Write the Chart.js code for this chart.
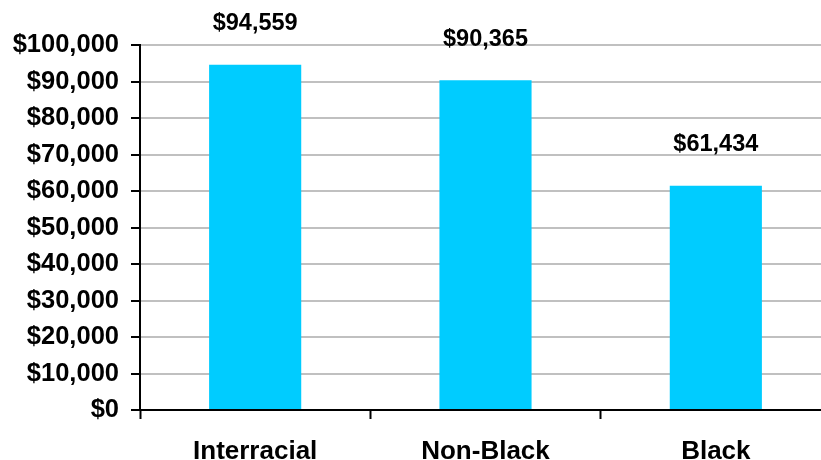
<!DOCTYPE html>
<html>
<head>
<meta charset="utf-8">
<script src="https://cdn.jsdelivr.net/npm/chart.js@4"></script>
<style>
    html, body { margin: 0; padding: 0; background: #fff; overflow: hidden; }
    #wrap { width: 831px; height: 460px; }
</style>
</head>
<body>
<div id="wrap"><canvas id="incomeChart"></canvas></div>
<script>
// Données
const categories = ['Interracial', 'Non-Black', 'Black'];
const incomes = [94559, 90365, 61434];
const yMin = 0;
const yMax = 100000;
const yStep = 10000;

const FONT = '"Liberation Sans", Arial, sans-serif';

function money(v) {
    return '$' + Number(v).toLocaleString('en-US');
}

// Étiquettes au-dessus des barres
const valueLabels = {
    id: 'valueLabels',
    afterDatasetsDraw(chart) {
        const ctx = chart.ctx;
        const meta = chart.getDatasetMeta(0);
        ctx.save();
        ctx.font = 'bold 23.5px ' + FONT;
        ctx.fillStyle = '#000';
        ctx.textAlign = 'center';
        ctx.textBaseline = 'middle';
        meta.data.forEach((bar, i) => {
            ctx.fillText(money(incomes[i]), bar.x, bar.y - 41);
        });
        ctx.restore();
    }
};

new Chart(document.getElementById('incomeChart'), {
    type: 'bar',
    data: {
        labels: categories,
        datasets: [{
            data: incomes,
            backgroundColor: '#00CCFF',
            borderWidth: 0,
            barPercentage: 0.4,
            categoryPercentage: 1
        }]
    },
    options: {
        responsive: true,
        maintainAspectRatio: false,
        animation: false,
        layout: { padding: { top: 45, right: 0, bottom: 0, left: 0 } },
        plugins: {
            legend: { display: false },
            tooltip: { enabled: false }
        },
        scales: {
            x: {
                offset: true,
                grid: {
                    offset: true,
                    drawOnChartArea: false,
                    drawTicks: true,
                    tickLength: 9,
                    tickColor: '#000',
                    tickWidth: 2
                },
                border: { color: '#000', width: 2 },
                ticks: {
                    color: '#000',
                    padding: 17,
                    font: { family: FONT, size: 26, weight: 'bold' }
                },
                afterFit(scale) { scale.height = 50; }
            },
            y: {
                min: yMin,
                max: yMax,
                grid: {
                    color: '#c0c0c0',
                    lineWidth: 2,
                    tickColor: '#000',
                    tickLength: 9,
                    tickWidth: 2
                },
                border: { color: '#000', width: 2 },
                ticks: {
                    stepSize: yStep,
                    color: '#000',
                    padding: 12,
                    font: { family: FONT, size: 25.5, weight: 'bold' },
                    callback: value => money(value)
                },
                afterFit(scale) { scale.width = 140; }
            }
        }
    },
    plugins: [valueLabels]
});
</script>
</body>
</html>
